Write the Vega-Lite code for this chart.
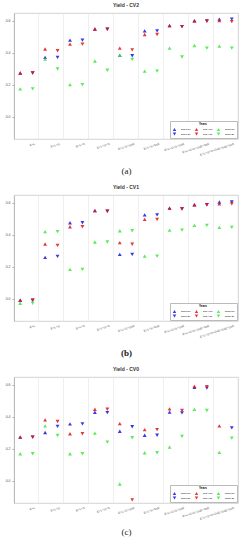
{
  "$schema": "https://vega.github.io/schema/vega-lite/v6.json",
  "padding": {"left": 4, "top": 2, "right": 0, "bottom": 0},
  "background": "white",
  "spacing": 8,
  "resolve": {"legend": {"color": "independent", "shape": "independent"}, "scale": {"color": "independent", "shape": "independent"}},
  "config": {
    "font": "Liberation Sans",
    "view": {"stroke": "#c8c8c8", "strokeWidth": 0.8},
    "axis": {"domainColor": "#b0b0b0", "domainWidth": 0.8, "tickColor": "#b0b0b0", "labelColor": "#555555", "labelFont": "Liberation Sans"},
    "title": {"fontSize": 5, "fontWeight": "bold", "color": "#333333", "offset": 5}
  },
  "datasets": {
    "d": [
      {"p":"a","m":"E+L","s":"2013-full","k":"full","v":0.274},
      {"p":"a","m":"E+L","s":"2013-20","k":"20","v":0.274},
      {"p":"a","m":"E+L","s":"2014-full","k":"full","v":0.274},
      {"p":"a","m":"E+L","s":"2014-20","k":"20","v":0.274},
      {"p":"a","m":"E+L","s":"2015-full","k":"full","v":0.174},
      {"p":"a","m":"E+L","s":"2015-20","k":"20","v":0.174},
      {"p":"a","m":"E+L+G","s":"2013-full","k":"full","v":0.372},
      {"p":"a","m":"E+L+G","s":"2013-20","k":"20","v":0.372},
      {"p":"a","m":"E+L+G","s":"2014-full","k":"full","v":0.424},
      {"p":"a","m":"E+L+G","s":"2014-20","k":"20","v":0.413},
      {"p":"a","m":"E+L+G","s":"2015-full","k":"full","v":0.361},
      {"p":"a","m":"E+L+G","s":"2015-20","k":"20","v":0.299},
      {"p":"a","m":"E+L+S","s":"2013-full","k":"full","v":0.480},
      {"p":"a","m":"E+L+S","s":"2013-20","k":"20","v":0.480},
      {"p":"a","m":"E+L+S","s":"2014-full","k":"full","v":0.455},
      {"p":"a","m":"E+L+S","s":"2014-20","k":"20","v":0.455},
      {"p":"a","m":"E+L+S","s":"2015-full","k":"full","v":0.201},
      {"p":"a","m":"E+L+S","s":"2015-20","k":"20","v":0.201},
      {"p":"a","m":"E+L+G+S","s":"2013-full","k":"full","v":0.550},
      {"p":"a","m":"E+L+G+S","s":"2013-20","k":"20","v":0.548},
      {"p":"a","m":"E+L+G+S","s":"2014-full","k":"full","v":0.550},
      {"p":"a","m":"E+L+G+S","s":"2014-20","k":"20","v":0.548},
      {"p":"a","m":"E+L+G+S","s":"2015-full","k":"full","v":0.349},
      {"p":"a","m":"E+L+G+S","s":"2015-20","k":"20","v":0.291},
      {"p":"a","m":"E+L+G+GxE","s":"2013-full","k":"full","v":0.384},
      {"p":"a","m":"E+L+G+GxE","s":"2013-20","k":"20","v":0.382},
      {"p":"a","m":"E+L+G+GxE","s":"2014-full","k":"full","v":0.430},
      {"p":"a","m":"E+L+G+GxE","s":"2014-20","k":"20","v":0.419},
      {"p":"a","m":"E+L+G+GxE","s":"2015-full","k":"full","v":0.384},
      {"p":"a","m":"E+L+G+GxE","s":"2015-20","k":"20","v":0.359},
      {"p":"a","m":"E+L+S+SxE","s":"2013-full","k":"full","v":0.538},
      {"p":"a","m":"E+L+S+SxE","s":"2013-20","k":"20","v":0.538},
      {"p":"a","m":"E+L+S+SxE","s":"2014-full","k":"full","v":0.515},
      {"p":"a","m":"E+L+S+SxE","s":"2014-20","k":"20","v":0.515},
      {"p":"a","m":"E+L+S+SxE","s":"2015-full","k":"full","v":0.286},
      {"p":"a","m":"E+L+S+SxE","s":"2015-20","k":"20","v":0.286},
      {"p":"a","m":"E+L+G+S+GxE","s":"2013-full","k":"full","v":0.571},
      {"p":"a","m":"E+L+G+S+GxE","s":"2013-20","k":"20","v":0.565},
      {"p":"a","m":"E+L+G+S+GxE","s":"2014-full","k":"full","v":0.571},
      {"p":"a","m":"E+L+G+S+GxE","s":"2014-20","k":"20","v":0.565},
      {"p":"a","m":"E+L+G+S+GxE","s":"2015-full","k":"full","v":0.430},
      {"p":"a","m":"E+L+G+S+GxE","s":"2015-20","k":"20","v":0.374},
      {"p":"a","m":"E+L+G+S+GxE+SxE","s":"2013-full","k":"full","v":0.602},
      {"p":"a","m":"E+L+G+S+GxE+SxE","s":"2013-20","k":"20","v":0.600},
      {"p":"a","m":"E+L+G+S+GxE+SxE","s":"2014-full","k":"full","v":0.600},
      {"p":"a","m":"E+L+G+S+GxE+SxE","s":"2014-20","k":"20","v":0.598},
      {"p":"a","m":"E+L+G+S+GxE+SxE","s":"2015-full","k":"full","v":0.446},
      {"p":"a","m":"E+L+G+S+GxE+SxE","s":"2015-20","k":"20","v":0.430},
      {"p":"a","m":"E+L+G+S+GxE+SxE+GxS","s":"2013-full","k":"full","v":0.612},
      {"p":"a","m":"E+L+G+S+GxE+SxE+GxS","s":"2013-20","k":"20","v":0.612},
      {"p":"a","m":"E+L+G+S+GxE+SxE+GxS","s":"2014-full","k":"full","v":0.602},
      {"p":"a","m":"E+L+G+S+GxE+SxE+GxS","s":"2014-20","k":"20","v":0.596},
      {"p":"a","m":"E+L+G+S+GxE+SxE+GxS","s":"2015-full","k":"full","v":0.442},
      {"p":"a","m":"E+L+G+S+GxE+SxE+GxS","s":"2015-20","k":"20","v":0.430},

      {"p":"b","m":"E+L","s":"2013-full","k":"full","v":-0.010},
      {"p":"b","m":"E+L","s":"2013-20","k":"20","v":-0.010},
      {"p":"b","m":"E+L","s":"2014-full","k":"full","v":-0.010},
      {"p":"b","m":"E+L","s":"2014-20","k":"20","v":-0.010},
      {"p":"b","m":"E+L","s":"2015-full","k":"full","v":-0.029},
      {"p":"b","m":"E+L","s":"2015-20","k":"20","v":-0.029},
      {"p":"b","m":"E+L+G","s":"2013-full","k":"full","v":0.259},
      {"p":"b","m":"E+L+G","s":"2013-20","k":"20","v":0.265},
      {"p":"b","m":"E+L+G","s":"2014-full","k":"full","v":0.343},
      {"p":"b","m":"E+L+G","s":"2014-20","k":"20","v":0.334},
      {"p":"b","m":"E+L+G","s":"2015-full","k":"full","v":0.420},
      {"p":"b","m":"E+L+G","s":"2015-20","k":"20","v":0.420},
      {"p":"b","m":"E+L+S","s":"2013-full","k":"full","v":0.476},
      {"p":"b","m":"E+L+S","s":"2013-20","k":"20","v":0.476},
      {"p":"b","m":"E+L+S","s":"2014-full","k":"full","v":0.451},
      {"p":"b","m":"E+L+S","s":"2014-20","k":"20","v":0.451},
      {"p":"b","m":"E+L+S","s":"2015-full","k":"full","v":0.184},
      {"p":"b","m":"E+L+S","s":"2015-20","k":"20","v":0.184},
      {"p":"b","m":"E+L+G+S","s":"2013-full","k":"full","v":0.552},
      {"p":"b","m":"E+L+G+S","s":"2013-20","k":"20","v":0.548},
      {"p":"b","m":"E+L+G+S","s":"2014-full","k":"full","v":0.552},
      {"p":"b","m":"E+L+G+S","s":"2014-20","k":"20","v":0.548},
      {"p":"b","m":"E+L+G+S","s":"2015-full","k":"full","v":0.355},
      {"p":"b","m":"E+L+G+S","s":"2015-20","k":"20","v":0.355},
      {"p":"b","m":"E+L+G+GxE","s":"2013-full","k":"full","v":0.278},
      {"p":"b","m":"E+L+G+GxE","s":"2013-20","k":"20","v":0.278},
      {"p":"b","m":"E+L+G+GxE","s":"2014-full","k":"full","v":0.351},
      {"p":"b","m":"E+L+G+GxE","s":"2014-20","k":"20","v":0.341},
      {"p":"b","m":"E+L+G+GxE","s":"2015-full","k":"full","v":0.426},
      {"p":"b","m":"E+L+G+GxE","s":"2015-20","k":"20","v":0.426},
      {"p":"b","m":"E+L+S+SxE","s":"2013-full","k":"full","v":0.525},
      {"p":"b","m":"E+L+S+SxE","s":"2013-20","k":"20","v":0.525},
      {"p":"b","m":"E+L+S+SxE","s":"2014-full","k":"full","v":0.497},
      {"p":"b","m":"E+L+S+SxE","s":"2014-20","k":"20","v":0.497},
      {"p":"b","m":"E+L+S+SxE","s":"2015-full","k":"full","v":0.267},
      {"p":"b","m":"E+L+S+SxE","s":"2015-20","k":"20","v":0.267},
      {"p":"b","m":"E+L+G+S+GxE","s":"2013-full","k":"full","v":0.568},
      {"p":"b","m":"E+L+G+S+GxE","s":"2013-20","k":"20","v":0.562},
      {"p":"b","m":"E+L+G+S+GxE","s":"2014-full","k":"full","v":0.568},
      {"p":"b","m":"E+L+G+S+GxE","s":"2014-20","k":"20","v":0.564},
      {"p":"b","m":"E+L+G+S+GxE","s":"2015-full","k":"full","v":0.430},
      {"p":"b","m":"E+L+G+S+GxE","s":"2015-20","k":"20","v":0.430},
      {"p":"b","m":"E+L+G+S+GxE+SxE","s":"2013-full","k":"full","v":0.589},
      {"p":"b","m":"E+L+G+S+GxE+SxE","s":"2013-20","k":"20","v":0.589},
      {"p":"b","m":"E+L+G+S+GxE+SxE","s":"2014-full","k":"full","v":0.589},
      {"p":"b","m":"E+L+G+S+GxE+SxE","s":"2014-20","k":"20","v":0.589},
      {"p":"b","m":"E+L+G+S+GxE+SxE","s":"2015-full","k":"full","v":0.460},
      {"p":"b","m":"E+L+G+S+GxE+SxE","s":"2015-20","k":"20","v":0.460},
      {"p":"b","m":"E+L+G+S+GxE+SxE+GxS","s":"2013-full","k":"full","v":0.606},
      {"p":"b","m":"E+L+G+S+GxE+SxE+GxS","s":"2013-20","k":"20","v":0.606},
      {"p":"b","m":"E+L+G+S+GxE+SxE+GxS","s":"2014-full","k":"full","v":0.594},
      {"p":"b","m":"E+L+G+S+GxE+SxE+GxS","s":"2014-20","k":"20","v":0.594},
      {"p":"b","m":"E+L+G+S+GxE+SxE+GxS","s":"2015-full","k":"full","v":0.447},
      {"p":"b","m":"E+L+G+S+GxE+SxE+GxS","s":"2015-20","k":"20","v":0.447},

      {"p":"c","m":"E+L","s":"2013-full","k":"full","v":0.273},
      {"p":"c","m":"E+L","s":"2013-20","k":"20","v":0.273},
      {"p":"c","m":"E+L","s":"2014-full","k":"full","v":0.273},
      {"p":"c","m":"E+L","s":"2014-20","k":"20","v":0.273},
      {"p":"c","m":"E+L","s":"2015-full","k":"full","v":0.169},
      {"p":"c","m":"E+L","s":"2015-20","k":"20","v":0.169},
      {"p":"c","m":"E+L+G","s":"2013-full","k":"full","v":0.302},
      {"p":"c","m":"E+L+G","s":"2013-20","k":"20","v":0.340},
      {"p":"c","m":"E+L+G","s":"2014-full","k":"full","v":0.381},
      {"p":"c","m":"E+L+G","s":"2014-20","k":"20","v":0.371},
      {"p":"c","m":"E+L+G","s":"2015-full","k":"full","v":0.344},
      {"p":"c","m":"E+L+G","s":"2015-20","k":"20","v":0.283},
      {"p":"c","m":"E+L+S","s":"2013-full","k":"full","v":0.356},
      {"p":"c","m":"E+L+S","s":"2013-20","k":"20","v":0.356},
      {"p":"c","m":"E+L+S","s":"2014-full","k":"full","v":0.294},
      {"p":"c","m":"E+L+S","s":"2014-20","k":"20","v":0.294},
      {"p":"c","m":"E+L+S","s":"2015-full","k":"full","v":0.169},
      {"p":"c","m":"E+L+S","s":"2015-20","k":"20","v":0.169},
      {"p":"c","m":"E+L+G+S","s":"2013-full","k":"full","v":0.429},
      {"p":"c","m":"E+L+G+S","s":"2013-20","k":"20","v":0.427},
      {"p":"c","m":"E+L+G+S","s":"2014-full","k":"full","v":0.448},
      {"p":"c","m":"E+L+G+S","s":"2014-20","k":"20","v":0.448},
      {"p":"c","m":"E+L+G+S","s":"2015-full","k":"full","v":0.298},
      {"p":"c","m":"E+L+G+S","s":"2015-20","k":"20","v":0.242},
      {"p":"c","m":"E+L+G+GxE","s":"2013-full","k":"full","v":0.310},
      {"p":"c","m":"E+L+G+GxE","s":"2013-20","k":"20","v":0.338},
      {"p":"c","m":"E+L+G+GxE","s":"2014-full","k":"full","v":0.358},
      {"p":"c","m":"E+L+G+GxE","s":"2014-20","k":"20","v":-0.120},
      {"p":"c","m":"E+L+G+GxE","s":"2015-full","k":"full","v":-0.021},
      {"p":"c","m":"E+L+G+GxE","s":"2015-20","k":"20","v":0.269},
      {"p":"c","m":"E+L+S+SxE","s":"2013-full","k":"full","v":0.285},
      {"p":"c","m":"E+L+S+SxE","s":"2013-20","k":"20","v":0.285},
      {"p":"c","m":"E+L+S+SxE","s":"2014-full","k":"full","v":0.320},
      {"p":"c","m":"E+L+S+SxE","s":"2014-20","k":"20","v":0.320},
      {"p":"c","m":"E+L+S+SxE","s":"2015-full","k":"full","v":0.175},
      {"p":"c","m":"E+L+S+SxE","s":"2015-20","k":"20","v":0.175},
      {"p":"c","m":"E+L+G+S+GxE","s":"2013-full","k":"full","v":0.430},
      {"p":"c","m":"E+L+G+S+GxE","s":"2013-20","k":"20","v":0.425},
      {"p":"c","m":"E+L+G+S+GxE","s":"2014-full","k":"full","v":0.450},
      {"p":"c","m":"E+L+G+S+GxE","s":"2014-20","k":"20","v":0.440},
      {"p":"c","m":"E+L+G+S+GxE","s":"2015-full","k":"full","v":0.210},
      {"p":"c","m":"E+L+G+S+GxE","s":"2015-20","k":"20","v":0.278},
      {"p":"c","m":"E+L+G+S+GxE+SxE","s":"2013-full","k":"full","v":0.585},
      {"p":"c","m":"E+L+G+S+GxE+SxE","s":"2013-20","k":"20","v":0.580},
      {"p":"c","m":"E+L+G+S+GxE+SxE","s":"2014-full","k":"full","v":0.592},
      {"p":"c","m":"E+L+G+S+GxE+SxE","s":"2014-20","k":"20","v":0.590},
      {"p":"c","m":"E+L+G+S+GxE+SxE","s":"2015-full","k":"full","v":0.448},
      {"p":"c","m":"E+L+G+S+GxE+SxE","s":"2015-20","k":"20","v":0.440},
      {"p":"c","m":"E+L+G+S+GxE+SxE+GxS","s":"2013-20","k":"20","v":0.331},
      {"p":"c","m":"E+L+G+S+GxE+SxE+GxS","s":"2014-full","k":"full","v":0.344},
      {"p":"c","m":"E+L+G+S+GxE+SxE+GxS","s":"2015-full","k":"full","v":0.177},
      {"p":"c","m":"E+L+G+S+GxE+SxE+GxS","s":"2015-20","k":"20","v":0.267}
    ]
  },
  "vconcat": [
    {
      "title": {"text": "Yield - CV2"},
      "data": {"name": "d"},
      "transform": [{"filter": "datum.p == 'a'"}],
      "width": 224, "height": 126,
      "mark": {"type": "point", "filled": true, "size": 15, "opacity": 0.85},
      "encoding": {
        "x": {"field": "m", "type": "nominal", "sort": ["E+L","E+L+G","E+L+S","E+L+G+S","E+L+G+GxE","E+L+S+SxE","E+L+G+S+GxE","E+L+G+S+GxE+SxE","E+L+G+S+GxE+SxE+GxS"], "scale": {"paddingInner": 0, "paddingOuter": 0},
          "axis": {"title": "(a)", "titleFont": "Liberation Serif", "titleFontSize": 9, "titleFontWeight": "normal", "titleColor": "#222222", "titleY": 27, "labelAngle": -18, "labelFontSize": 3, "bandPosition": 0, "labelOffset": 8, "grid": true, "gridColor": "#e4e4e4", "gridWidth": 0.6, "ticks": false, "domain": false, "labelPadding": 3}},
        "xOffset": {"field": "k", "type": "nominal", "sort": ["full", "20"], "scale": {"paddingInner": 0, "paddingOuter": 0.5}},
        "y": {"field": "v", "type": "quantitative", "scale": {"domain": [-0.14, 0.65], "nice": false, "zero": false}, "axis": {"values": [0, 0.2, 0.4, 0.6], "format": ".1f", "grid": false, "title": null, "labelFontSize": 3.5, "tickSize": 2, "labelPadding": 2}},
        "color": {"field": "s", "type": "nominal", "scale": {"domain": ["2013-full","2013-20","2014-full","2014-20","2015-full","2015-20"], "range": ["#1515e0","#1515e0","#e01515","#e01515","#3ee83e","#3ee83e"]},
          "legend": {"title": "Years", "orient": "bottom-right", "offset": 1, "columns": 3, "titleFontSize": 3, "titleAnchor": "middle", "titlePadding": 1, "labelFontSize": 2.5, "symbolSize": 12, "rowPadding": 0.5, "columnPadding": 3, "padding": 2, "fillColor": "white", "strokeColor": "#bbbbbb"}},
        "shape": {"field": "s", "type": "nominal", "scale": {"domain": ["2013-full","2013-20","2014-full","2014-20","2015-full","2015-20"], "range": ["triangle-up","triangle-down","triangle-up","triangle-down","triangle-up","triangle-down"]}}
      }
    },
    {
      "title": {"text": "Yield - CV1"},
      "data": {"name": "d"},
      "transform": [{"filter": "datum.p == 'b'"}],
      "width": 224, "height": 126,
      "mark": {"type": "point", "filled": true, "size": 15, "opacity": 0.85},
      "encoding": {
        "x": {"field": "m", "type": "nominal", "sort": ["E+L","E+L+G","E+L+S","E+L+G+S","E+L+G+GxE","E+L+S+SxE","E+L+G+S+GxE","E+L+G+S+GxE+SxE","E+L+G+S+GxE+SxE+GxS"], "scale": {"paddingInner": 0, "paddingOuter": 0},
          "axis": {"title": "(b)", "titleFont": "Liberation Serif", "titleFontSize": 9, "titleFontWeight": "bold", "titleColor": "#222222", "titleY": 27, "labelAngle": -18, "labelFontSize": 3, "bandPosition": 0, "labelOffset": 8, "grid": true, "gridColor": "#e4e4e4", "gridWidth": 0.6, "ticks": false, "domain": false, "labelPadding": 3}},
        "xOffset": {"field": "k", "type": "nominal", "sort": ["full", "20"], "scale": {"paddingInner": 0, "paddingOuter": 0.5}},
        "y": {"field": "v", "type": "quantitative", "scale": {"domain": [-0.14, 0.65], "nice": false, "zero": false}, "axis": {"values": [0, 0.2, 0.4, 0.6], "format": ".1f", "grid": false, "title": null, "labelFontSize": 3.5, "tickSize": 2, "labelPadding": 2}},
        "color": {"field": "s", "type": "nominal", "scale": {"domain": ["2013-full","2013-20","2014-full","2014-20","2015-full","2015-20"], "range": ["#1515e0","#1515e0","#e01515","#e01515","#3ee83e","#3ee83e"]},
          "legend": {"title": "Years", "orient": "bottom-right", "offset": 1, "columns": 3, "titleFontSize": 3, "titleAnchor": "middle", "titlePadding": 1, "labelFontSize": 2.5, "symbolSize": 12, "rowPadding": 0.5, "columnPadding": 3, "padding": 2, "fillColor": "white", "strokeColor": "#bbbbbb"}},
        "shape": {"field": "s", "type": "nominal", "scale": {"domain": ["2013-full","2013-20","2014-full","2014-20","2015-full","2015-20"], "range": ["triangle-up","triangle-down","triangle-up","triangle-down","triangle-up","triangle-down"]}}
      }
    },
    {
      "title": {"text": "Yield - CV0"},
      "data": {"name": "d"},
      "transform": [{"filter": "datum.p == 'c'"}],
      "width": 224, "height": 126,
      "mark": {"type": "point", "filled": true, "size": 15, "opacity": 0.85},
      "encoding": {
        "x": {"field": "m", "type": "nominal", "sort": ["E+L","E+L+G","E+L+S","E+L+G+S","E+L+G+GxE","E+L+S+SxE","E+L+G+S+GxE","E+L+G+S+GxE+SxE","E+L+G+S+GxE+SxE+GxS"], "scale": {"paddingInner": 0, "paddingOuter": 0},
          "axis": {"title": "(c)", "titleFont": "Liberation Serif", "titleFontSize": 9, "titleFontWeight": "normal", "titleColor": "#222222", "titleY": 24, "labelAngle": -18, "labelFontSize": 3, "bandPosition": 0, "labelOffset": 8, "grid": true, "gridColor": "#e4e4e4", "gridWidth": 0.6, "ticks": false, "domain": false, "labelPadding": 3}},
        "xOffset": {"field": "k", "type": "nominal", "sort": ["full", "20"], "scale": {"paddingInner": 0, "paddingOuter": 0.5}},
        "y": {"field": "v", "type": "quantitative", "scale": {"domain": [-0.14, 0.65], "nice": false, "zero": false}, "axis": {"values": [0, 0.2, 0.4, 0.6], "format": ".1f", "grid": false, "title": null, "labelFontSize": 3.5, "tickSize": 2, "labelPadding": 2}},
        "color": {"field": "s", "type": "nominal", "scale": {"domain": ["2013-full","2013-20","2014-full","2014-20","2015-full","2015-20"], "range": ["#1515e0","#1515e0","#e01515","#e01515","#3ee83e","#3ee83e"]},
          "legend": {"title": "Years", "orient": "bottom-right", "offset": 1, "columns": 3, "titleFontSize": 3, "titleAnchor": "middle", "titlePadding": 1, "labelFontSize": 2.5, "symbolSize": 12, "rowPadding": 0.5, "columnPadding": 3, "padding": 2, "fillColor": "white", "strokeColor": "#bbbbbb"}},
        "shape": {"field": "s", "type": "nominal", "scale": {"domain": ["2013-full","2013-20","2014-full","2014-20","2015-full","2015-20"], "range": ["triangle-up","triangle-down","triangle-up","triangle-down","triangle-up","triangle-down"]}}
      }
    }
  ]
}
